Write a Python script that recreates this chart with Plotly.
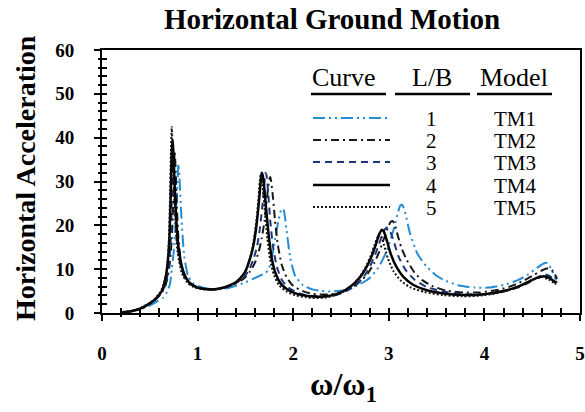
import plotly.graph_objects as go

# ---------------- data ----------------
x1 = [0.20,0.30,0.40,0.50,0.58,0.64,0.68,0.71,0.73,0.75,0.77,0.78,0.79,0.80,0.81,0.83,0.86,0.90,0.95,1.00,
      1.10,1.20,1.30,1.40,1.50,1.58,1.65,1.70,1.74,1.78,1.82,1.85,1.88,1.90,1.93,1.97,2.02,2.10,2.20,2.30,
      2.40,2.50,2.60,2.70,2.80,2.88,2.95,3.00,3.05,3.09,3.12,3.14,3.17,3.22,3.30,3.40,3.50,3.60,3.75,3.90,
      4.05,4.20,4.35,4.45,4.55,4.62,4.66,4.70,4.75]
y1 = [0.1,0.3,0.8,1.7,2.7,3.5,4.8,6.5,10,14,20,25,30.5,34,31,22,13,8.5,6.8,6.2,
      5.6,5.4,5.6,6.2,7.0,7.8,8.5,9.0,9.8,13,18,21.5,23.8,23.5,19,12.5,8.5,6.4,5.4,5.0,
      4.9,5.1,5.6,6.6,8.0,10,12.8,15.5,19,22.5,24.5,24.7,23,18.3,13.5,10.5,8.5,7.3,6.2,5.8,
      5.8,6.4,7.5,8.7,10.3,11.3,11.4,10,7.5]

x2 = [0.20,0.30,0.40,0.50,0.57,0.62,0.66,0.69,0.71,0.73,0.74,0.75,0.76,0.77,0.78,0.80,0.83,0.88,0.94,1.00,
      1.10,1.20,1.30,1.40,1.48,1.55,1.60,1.64,1.67,1.70,1.72,1.74,1.75,1.76,1.77,1.79,1.81,1.84,1.88,1.93,
      2.00,2.10,2.20,2.30,2.40,2.50,2.60,2.70,2.78,2.85,2.90,2.95,2.99,3.02,3.04,3.06,3.09,3.13,3.19,3.27,
      3.35,3.45,3.60,3.78,3.95,4.15,4.30,4.42,4.52,4.60,4.67,4.72,4.76]
y2 = [0.1,0.4,1.0,2.1,3.3,4.5,6.0,8.5,11.5,17,22,29,37,33,26,17,11,7.8,6.5,5.9,
      5.5,5.5,5.9,6.7,7.8,9.5,11.5,14,17,21,25,29,30.5,31,30,26,21,15.5,11,8.2,
      6.2,5.0,4.4,4.2,4.3,4.7,5.6,7.2,9.0,11.5,14,17,19.5,20.8,21,20.3,18,15,12,9.2,
      7.5,6.2,5.1,4.7,4.7,5.3,6.3,7.5,8.7,9.7,10.2,9.5,7.8]

x3 = [0.20,0.30,0.40,0.50,0.56,0.61,0.65,0.68,0.70,0.72,0.73,0.74,0.75,0.76,0.78,0.81,0.86,0.92,1.00,1.10,
      1.20,1.30,1.40,1.47,1.53,1.58,1.62,1.65,1.68,1.70,1.71,1.72,1.74,1.76,1.79,1.83,1.88,1.95,2.05,2.15,
      2.25,2.35,2.45,2.55,2.65,2.73,2.80,2.86,2.91,2.95,2.98,3.01,3.05,3.10,3.17,3.27,3.40,3.60,3.80,4.00,
      4.20,4.35,4.47,4.56,4.63,4.70,4.76]
y3 = [0.1,0.4,1.0,2.2,3.1,4.3,5.8,8,11,17,26,38.5,35,27,18,12,8.3,6.7,5.8,5.4,
      5.4,5.9,6.8,7.8,9.5,12,15,19,25,30,32,31.5,27,21,15,10.5,7.6,5.8,4.6,4.0,
      3.8,3.8,4.1,4.9,6.3,8.0,10.5,13.5,16.5,18.8,19.5,18.8,16.5,13,10,7.6,5.9,4.8,4.3,4.3,
      4.9,5.8,7.0,8.2,8.8,8.2,6.9]

x4 = [0.20,0.30,0.40,0.50,0.55,0.60,0.63,0.66,0.68,0.70,0.71,0.72,0.73,0.74,0.75,0.77,0.80,0.85,0.90,0.95,
      1.00,1.10,1.20,1.30,1.40,1.45,1.50,1.55,1.58,1.61,1.64,1.66,1.67,1.68,1.70,1.72,1.75,1.78,1.82,1.87,
      1.95,2.05,2.15,2.25,2.35,2.45,2.55,2.65,2.72,2.78,2.83,2.87,2.90,2.93,2.95,2.98,3.02,3.08,3.15,3.25,
      3.40,3.60,3.80,4.00,4.20,4.35,4.45,4.55,4.62,4.68,4.75]
y4 = [0.1,0.4,1.0,2.2,3.0,4.2,5.2,7.5,10,15,20,28,37,39.5,35,24,15,9.5,7.3,6.3,
      5.8,5.4,5.5,6.0,7.0,8.0,9.5,12.5,15,19,25,30,32,31.5,28,23,16.5,12,8.8,6.7,
      5.2,4.3,3.9,3.7,3.8,4.3,5.3,7.0,8.8,11,13.5,16,18,19,18.5,16.5,13.5,10.5,8.3,6.5,
      5.2,4.4,4.1,4.3,5.0,6.0,7.0,8.0,8.4,8.0,6.8]

x5 = [0.20,0.30,0.40,0.50,0.55,0.60,0.63,0.65,0.67,0.69,0.70,0.71,0.72,0.73,0.74,0.76,0.79,0.84,0.90,0.95,
      1.00,1.10,1.20,1.30,1.40,1.45,1.50,1.54,1.57,1.60,1.62,1.64,1.65,1.66,1.68,1.70,1.73,1.76,1.80,1.85,
      1.93,2.03,2.13,2.23,2.33,2.43,2.53,2.63,2.70,2.76,2.81,2.85,2.88,2.90,2.92,2.95,2.99,3.05,3.12,3.22,
      3.37,3.57,3.77,3.97,4.17,4.32,4.42,4.52,4.60,4.67,4.75]
y5 = [0.1,0.4,1.1,2.3,3.2,4.5,5.7,7,9,13,17,25,36,42.5,36,24,14,8.8,6.8,6.0,
      5.6,5.3,5.4,5.9,7.0,8.0,9.6,12,14.5,18.5,22,27,30,31.5,29,24,17,12,8.6,6.4,
      4.9,4.0,3.6,3.4,3.5,4.0,5.0,6.6,8.4,10.6,13,15.5,17.2,18,17.5,15.5,12.5,9.5,7.5,5.9,
      4.8,4.1,3.8,4.0,4.7,5.7,6.7,7.7,8.2,7.7,6.5]

curve_ids = ["1", "2", "3", "4", "5"]
lb_values = ["1", "2", "3", "4", "5"]
models = ["TM1", "TM2", "TM3", "TM4", "TM5"]
x_ticks = [0, 1, 2, 3, 4, 5]
y_ticks = [0, 10, 20, 30, 40, 50, 60]

series = [(x1, y1), (x2, y2), (x3, y3), (x4, y4), (x5, y5)]
for xs, ys in series:
    assert len(xs) == len(ys), (len(xs), len(ys))

# ---------------- styles ----------------
styles = [
    dict(color="rgb(35,140,212)", width=2, dash="12px,4px,2px,4px,2px,4px"),
    dict(color="rgb(25,25,25)", width=2, dash="8px,4px,2px,4px"),
    dict(color="rgb(30,55,120)", width=2, dash="7px,5px"),
    dict(color="rgb(0,0,0)", width=2.5, dash="solid"),
    dict(color="rgb(20,20,20)", width=2, dash="2px,2px"),
]

SERIF = "Liberation Serif"
W, H = 585, 412
L, R, T, B = 102, 5, 50, 99
PW, PH = W - L - R, H - T - B


def px(xp):
    return (xp - L) / PW


def py(yp):
    return (H - B - yp) / PH


fig = go.Figure()
for (xs, ys), st, m in zip(series, styles, models):
    fig.add_trace(go.Scatter(
        x=xs, y=ys, mode="lines", name=m,
        line=dict(color=st["color"], width=st["width"], dash=st["dash"],
                  shape="spline", smoothing=0.6),
        showlegend=False, hoverinfo="skip"))

# helper trace for the overlay axes (crossing ticks)
fig.add_trace(go.Scatter(x=[0, 5], y=[0, 0], xaxis="x2", yaxis="y2", mode="lines",
                         line=dict(width=1, color="rgba(0,0,0,0)"),
                         showlegend=False, hoverinfo="skip"))

tickfont = dict(family=SERIF, size=19, color="black", weight="bold")

fig.update_layout(
    width=W, height=H,
    margin=dict(l=L, r=R, t=T, b=B, autoexpand=False),
    paper_bgcolor="white", plot_bgcolor="white",
    xaxis=dict(range=[0, 5], tickvals=x_ticks, ticktext=[str(v) for v in x_ticks],
               showgrid=False, zeroline=False, showline=True, linecolor="black", linewidth=2,
               mirror=True, ticks="outside", ticklen=6, tickwidth=1.5, tickcolor="black",
               minor=dict(dtick=0.2, ticks="outside", ticklen=2, tickwidth=1.5, tickcolor="black"),
               tickfont=tickfont, ticklabelstandoff=16),
    yaxis=dict(range=[0, 60], tickvals=y_ticks, ticktext=[str(v) for v in y_ticks],
               showgrid=False, zeroline=False, showline=True, linecolor="black", linewidth=2,
               mirror=True, ticks="outside", ticklen=6, tickwidth=1.5, tickcolor="black",
               minor=dict(dtick=2, ticks="outside", ticklen=2, tickwidth=1.5, tickcolor="black"),
               tickfont=tickfont, ticklabelstandoff=16),
    xaxis2=dict(range=[0, 5], overlaying="x", anchor="y2", side="bottom",
                tickvals=x_ticks, showticklabels=False, showgrid=False, zeroline=False,
                showline=False, ticks="inside", ticklen=5, tickwidth=1.5, tickcolor="black",
                minor=dict(dtick=0.2, ticks="inside", ticklen=5, tickwidth=1.5, tickcolor="black")),
    yaxis2=dict(range=[0, 60], overlaying="y", anchor="x2", side="left",
                tickvals=y_ticks, showticklabels=False, showgrid=False, zeroline=False,
                showline=False, ticks="inside", ticklen=5, tickwidth=1.5, tickcolor="black",
                minor=dict(dtick=2, ticks="inside", ticklen=5, tickwidth=1.5, tickcolor="black")),
)

ann = []
shapes = []

# titles
ann.append(dict(text="<b>Horizontal Ground Motion</b>", x=px(332), y=py(19), xref="paper", yref="paper",
                showarrow=False, xanchor="center", yanchor="middle",
                font=dict(family=SERIF, size=29, color="black")))
ann.append(dict(text="<b>Horizontal Acceleration</b>", x=px(25), y=py(178), xref="paper", yref="paper",
                showarrow=False, xanchor="center", yanchor="middle", textangle=-90,
                font=dict(family=SERIF, size=28, color="black")))
ann.append(dict(text="<b>ω/ω<sub>1</sub></b>", x=px(343), y=py(386), xref="paper", yref="paper",
                showarrow=False, xanchor="center", yanchor="middle",
                font=dict(family=SERIF, size=32, color="black")))

# legend table
headers = [("Curve", 344, 311, 386), ("L/B", 432, 395, 470), ("Model", 514, 477, 552)]
for text, cx, u0, u1 in headers:
    ann.append(dict(text=text, x=px(cx), y=py(77), xref="paper", yref="paper", showarrow=False,
                    xanchor="center", yanchor="middle",
                    font=dict(family=SERIF, size=26, color="black")))
    shapes.append(dict(type="line", xref="paper", yref="paper", x0=px(u0), x1=px(u1),
                       y0=py(94), y1=py(94), line=dict(color="black", width=2.5)))

row_y = [118, 140, 162, 185, 207]
for i, (lb, m, st) in enumerate(zip(lb_values, models, styles)):
    yy = row_y[i]
    shapes.append(dict(type="line", xref="paper", yref="paper", x0=px(313), x1=px(390),
                       y0=py(yy), y1=py(yy),
                       line=dict(color=st["color"], width=st["width"], dash=st["dash"])))
    ann.append(dict(text=lb, x=px(431), y=py(yy + 1), xref="paper", yref="paper", showarrow=False,
                    xanchor="center", yanchor="middle",
                    font=dict(family=SERIF, size=21, color="black")))
    ann.append(dict(text=m, x=px(515), y=py(yy + 1), xref="paper", yref="paper", showarrow=False,
                    xanchor="center", yanchor="middle",
                    font=dict(family=SERIF, size=21, color="black")))

fig.update_layout(annotations=ann, shapes=shapes)
fig.write_html("out.html", config={"displayModeBar": False},
               post_script="document.body.style.margin='0';")
